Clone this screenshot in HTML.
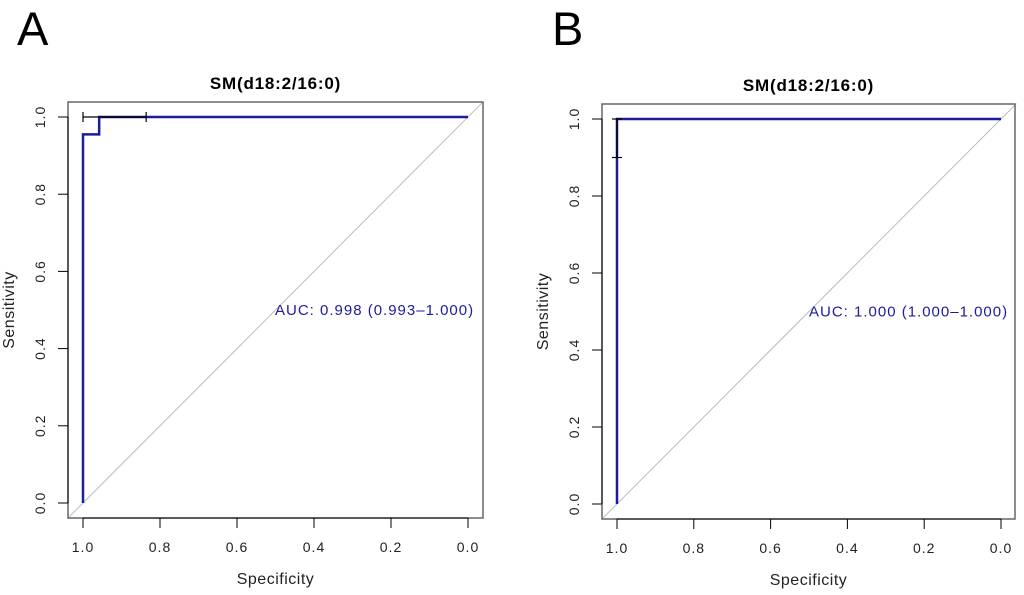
<!DOCTYPE html>
<html><head><meta charset="utf-8"><style>
html,body{margin:0;padding:0;background:#fff;width:1024px;height:595px;overflow:hidden}
svg text{font-family:"Liberation Sans",sans-serif}
</style></head><body>
<svg id="s" width="1024" height="595" xmlns="http://www.w3.org/2000/svg"></svg>
<script>
const ticks=[1.0,0.8,0.6,0.4,0.2,0.0];
const tickLabels=["1.0","0.8","0.6","0.4","0.2","0.0"];
const rocA_spec=[1.0,1.0,0.958,0.958,0.0];
const rocA_sens=[0.0,0.955,0.955,1.0,1.0];
const rocB_spec=[1.0,1.0,0.0];
const rocB_sens=[0.0,1.0,1.0];
const ciA=[1.0,0.836];
const ciB=[1.0,0.9];
const aucA="AUC: 0.998 (0.993\u20131.000)";
const aucB="AUC: 1.000 (1.000\u20131.000)";
const NS="http://www.w3.org/2000/svg";
const svg=document.getElementById('s');
function mk(tag,attrs,parent){const e=document.createElementNS(NS,tag);for(const k in attrs)e.setAttribute(k,attrs[k]);(parent||svg).appendChild(e);return e;}
function panel(p){
  const g=mk('g',{});
  
  
  const X=v=>p.x1+(1-v)*(p.x0-p.x1);
  const Y=v=>p.y0+(p.y1-p.y0)*v;
  let t=mk('text',{x:p.lx,y:p.ly,'font-size':47,fill:'#000'},g);t.textContent=p.id;
  
  t=mk('text',{x:(p.L+p.R)/2,y:p.T-13,'font-size':17,'font-weight':'bold','text-anchor':'middle','letter-spacing':0.8},g);t.textContent="SM(d18:2/16:0)";
  
  const d=mk('line',{x1:X(1.04),y1:Y(-0.04),x2:X(-0.04),y2:Y(1.04),stroke:'#bbb','stroke-width':1},g);
  
  const f=mk('rect',{x:p.L,y:p.T,width:p.R-p.L,height:p.B-p.T,fill:'none',stroke:'#666','stroke-width':1.5},g);
  
  mk('line',{x1:X(1),y1:p.B,x2:X(0),y2:p.B,stroke:'#000'},g);
  ticks.forEach((v,i)=>{
    mk('line',{x1:X(v),y1:p.B,x2:X(v),y2:p.B+10,stroke:'#000'},g);
    const tt=mk('text',{x:X(v),y:p.B+34,'font-size':14,'text-anchor':'middle',fill:'#222','letter-spacing':1},g);tt.textContent=tickLabels[i];
    
  });
  mk('line',{x1:p.L,y1:Y(0),x2:p.L,y2:Y(1),stroke:'#000'},g);
  ticks.forEach((v,i)=>{
    mk('line',{x1:p.L-10,y1:Y(v),x2:p.L,y2:Y(v),stroke:'#000'},g);
    const tx=p.L-23;
    const tt=mk('text',{x:tx,y:Y(v),'font-size':14,'text-anchor':'middle',fill:'#222','letter-spacing':1,transform:`rotate(-90 ${tx} ${Y(v)})`},g);tt.textContent=tickLabels[i];
    
  });
  t=mk('text',{x:(p.L+p.R)/2,y:p.B+66,'font-size':16,'text-anchor':'middle',fill:'#222','letter-spacing':0.5},g);t.textContent="Specificity";
  
  const yx=p.L-54,yy=(p.T+p.B)/2;
  t=mk('text',{x:yx,y:yy,'font-size':16,'text-anchor':'middle',fill:'#222','letter-spacing':0.5,transform:`rotate(-90 ${yx} ${yy})`},g);t.textContent="Sensitivity";
  
  const pts=p.spec.map((s,i)=>X(s)+','+Y(p.sens[i])).join(' ');
  const pl=mk('polyline',{points:pts,fill:'none',stroke:'#1c1c9c','stroke-width':2.5},g);
  
  const cg=mk('g',{stroke:'#000','stroke-width':1.2},g);
  
  if(p.ciType==='h'){
    mk('line',{x1:X(p.ci[0]),y1:Y(1),x2:X(p.ci[1]),y2:Y(1)},cg);
    p.ci.forEach(c=>mk('line',{x1:X(c),y1:Y(1)-5,x2:X(c),y2:Y(1)+5},cg));
  }else{
    mk('line',{x1:X(1),y1:Y(p.ci[0]),x2:X(1),y2:Y(p.ci[1])},cg);
    p.ci.forEach(c=>mk('line',{x1:X(1)-5,y1:Y(c),x2:X(1)+5,y2:Y(c)},cg));
  }
  t=mk('text',{x:p.aucX,y:Y(0.5)+5,'font-size':15,fill:'#1c1c9c','letter-spacing':1},g);t.textContent=p.auc;
  
}
panel({id:'A',lx:17,ly:45,L:68,R:483,T:102,B:518,x1:83,x0:468,y0:503,y1:117,spec:rocA_spec,sens:rocA_sens,ci:ciA,ciType:'h',auc:aucA,aucX:275});
panel({id:'B',lx:552,ly:45,L:602,R:1015,T:104,B:519,x1:617,x0:1001,y0:504,y1:119,spec:rocB_spec,sens:rocB_sens,ci:ciB,ciType:'v',auc:aucB,aucX:809});
</script>
</body></html>
